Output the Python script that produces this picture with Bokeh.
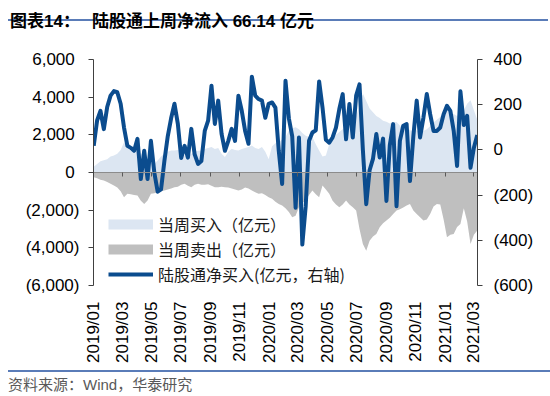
import math
import datetime as dt
from bokeh.plotting import figure
from bokeh.models import (ColumnDataSource, Range1d, LinearAxis, FixedTicker,
                          CustomJSTickFormatter, Legend, LegendItem, Div)
from bokeh.layouts import column
from bokeh.embed import file_html
from bokeh.resources import INLINE

# ---------------- data ----------------
first_week = dt.datetime(2019, 1, 4)
n_weeks = 115
dates = [first_week + dt.timedelta(days=7 * i) for i in range(n_weeks)]

# 当周买入 (亿元, left axis)
buy = [300, 450, 600, 650, 700, 850, 900, 1000, 1200, 1600,
       1300, 1150, 1200, 1150, 1000, 850, 700, 550, 460, 640,
       850, 1000, 1100, 1170, 1170, 1200, 1150, 900, 850, 1000,
       1100, 1150, 1170, 1250, 1300, 1350, 1250, 1300, 1000, 820,
       1100, 1260, 1200, 1170, 1250, 1300, 1350, 1430, 1300, 1250,
       1350, 1100, 700, 1400, 1550, 1610, 1750, 1880, 2230, 2350,
       2400, 2300, 2100, 1950, 1880, 1880, 1500, 1170, 850, 900,
       1500, 1700, 2000, 2150, 2300, 2410, 2500, 2700, 3000, 3500,
       4190, 3800, 3400, 3200, 3000, 2900, 2750, 2700, 2600, 2650,
       2680, 2500, 2300, 2400, 2250, 2200, 2250, 2100, 2200, 2300,
       2450, 2650, 2800, 2950, 3200, 3450, 3150, 3100, 3000, 3200,
       3300, 3650, 3830, 3300, 2800]

# 当周卖出 (亿元, left axis)
sell = [-250, -300, -380, -430, -500, -600, -690, -800, -1000, -1310,
        -1130, -1150, -1200, -1220, -1500, -1670, -1490, -1130, -1100, -1050,
        -1000, -960, -900, -850, -780, -750, -650, -600, -700, -780,
        -650, -600, -650, -650, -620, -700, -780, -780, -750, -780,
        -800, -850, -900, -960, -900, -800, -850, -950, -1050, -1130,
        -1100, -1200, -1310, -1400, -1550, -1670, -1750, -1900, -2100, -2380,
        -2300, -1840, -1600, -1490, -1200, -960, -1150, -1310, -690, -900,
        -1130, -1500, -1700, -1840, -1700, -1490, -1700, -1850, -2020, -3000,
        -3790, -4150, -3620, -3400, -3260, -2910, -2700, -2550, -2400, -2200,
        -2020, -1950, -1860, -1750, -1670, -2020, -2200, -2380, -2550, -2500,
        -2200, -1800, -1670, -1700, -2500, -3440, -3300, -3260, -2900, -2730,
        -1900, -2600, -3790, -3300, -3080]

# 陆股通净买入 (亿元, right axis)
net = [18, 130, 173, 92, 190, 240, 260, 255, 204, 99,
       18, 9, -4, 49, -129, -4, -129, 40, -100, -185,
       -175, -49, 60, 140, 204, 115, -36, 18, -34, 93,
       -20, -62, -49, 84, 129, 284, 115, 218, 71, -4,
       40, 93, 40, 240, 173, 84, 27, 324, 240, 225,
       218, 142, 204, 210, 187, -4, -151, 306, 140, 60,
       -256, 55, -419, -250, 40, 77, 87, 303, 188, 45,
       32, 55, 99, 181, 247, 47, 203, 55, 240, 290,
       0, -240, -90, -40, 70, -34, 50, -226, 20, 114,
       -249, 40, 107, 114, -138, 60, 218, 55, 143, 247,
       158, 84, 84, 99, 158, 195, 173, 84, -71, 259,
       110, 151, -79, 10, 66.14]

tick_dates = [dt.datetime(2019, 1, 4), dt.datetime(2019, 3, 4), dt.datetime(2019, 5, 4),
              dt.datetime(2019, 7, 4), dt.datetime(2019, 9, 4), dt.datetime(2019, 11, 4),
              dt.datetime(2020, 1, 4), dt.datetime(2020, 3, 4), dt.datetime(2020, 5, 4),
              dt.datetime(2020, 7, 4), dt.datetime(2020, 9, 4), dt.datetime(2020, 11, 4),
              dt.datetime(2021, 1, 4), dt.datetime(2021, 3, 4)]
tick_labels = ["2019/01", "2019/03", "2019/05", "2019/07", "2019/09", "2019/11",
               "2020/01", "2020/03", "2020/05", "2020/07", "2020/09", "2020/11",
               "2021/01", "2021/03"]
left_ticks = [-6000, -4000, -2000, 0, 2000, 4000, 6000]
right_ticks = [-600, -400, -200, 0, 200, 400]

series_names = ["当周买入（亿元）", "当周卖出（亿元）", "陆股通净买入(亿元，右轴)"]
title_label = "图表14："
title_main = "陆股通上周净流入 66.14 亿元"
source_note = "资料来源：Wind，华泰研究"

# ---------------- helpers ----------------
EPOCH = dt.datetime(1970, 1, 1)


def ms(d):
    return (d - EPOCH).total_seconds() * 1000.0


x_ms = [ms(d) for d in dates]
tick_ms = [ms(d) for d in tick_dates]
src = ColumnDataSource(dict(x=x_ms, buy=buy, sell=sell, net=net))

LINE_BLUE = "#0B4C8E"
LIGHT_BLUE = "#DCE6F2"
GRAY = "#BFBFBF"
AXIS = "#404040"
RULE = "#5A7CB8"
TICK_FONT = "Liberation Sans"

half_day = 12 * 3600 * 1000.0
p = figure(width=550, height=334,
           x_range=Range1d(x_ms[0] - half_day, x_ms[-1] + half_day),
           y_range=Range1d(-6000, 6000),
           x_axis_location=None, y_axis_location=None,
           output_backend="svg", toolbar_location=None,
           min_border_left=93, min_border_right=73,
           min_border_top=24, min_border_bottom=84)
p.margin = 0
p.outline_line_color = None
p.xgrid.visible = False
p.ygrid.visible = False
p.background_fill_color = "white"
p.border_fill_color = "white"
p.extra_y_ranges = {"right": Range1d(-600, 400)}

p.varea(x="x", y1=0, y2="buy", source=src, fill_color=LIGHT_BLUE)
p.varea(x="x", y1=0, y2="sell", source=src, fill_color=GRAY)
p.line(x="x", y="net", source=src, y_range_name="right",
       line_color=LINE_BLUE, line_width=4, line_join="round")

# legend swatches: renderers with a single undefined (NaN) value, so they draw
# nothing in the plot and only provide the legend symbols
key_src = ColumnDataSource(dict(x=[x_ms[0]], y=[float("nan")]))
k_buy = p.line(x="x", y="y", source=key_src, line_color=LIGHT_BLUE, line_width=10, line_cap="butt")
k_sell = p.line(x="x", y="y", source=key_src, line_color=GRAY, line_width=10, line_cap="butt")
k_net = p.line(x="x", y="y", source=key_src, line_color=LINE_BLUE, line_width=4, line_cap="butt")

paren_code = """
const a = Math.abs(tick).toLocaleString('en-US');
return tick < 0 ? '(' + a + ')' : a + pad;
"""

la = LinearAxis(ticker=FixedTicker(ticks=left_ticks),
                formatter=CustomJSTickFormatter(args=dict(pad="\u00a0"), code=paren_code))
ra = LinearAxis(y_range_name="right", ticker=FixedTicker(ticks=right_ticks),
                formatter=CustomJSTickFormatter(args=dict(pad=""), code=paren_code))
for ax in (la, ra):
    ax.axis_line_color = AXIS
    ax.axis_line_width = 1
    ax.major_tick_line_color = AXIS
    ax.major_tick_out = 5
    ax.major_tick_in = 0
    ax.minor_tick_line_color = None
    ax.major_label_text_font = TICK_FONT
    ax.major_label_text_font_size = "17px"
    ax.major_label_text_color = "#000000"
la.major_label_standoff = 9
ra.major_label_standoff = 11
p.add_layout(la, "left")
p.add_layout(ra, "right")

# date labels under the plot
label_fmt = CustomJSTickFormatter(args=dict(tvals=tick_ms, labs=tick_labels), code="""
let best = 0;
for (let i = 0; i < tvals.length; i++) {
  if (Math.abs(tvals[i] - tick) < Math.abs(tvals[best] - tick)) best = i;
}
return labs[best];
""")
xa = LinearAxis(ticker=FixedTicker(ticks=tick_ms), formatter=label_fmt)
xa.axis_line_color = None
xa.major_tick_line_color = None
xa.minor_tick_line_color = None
xa.major_label_orientation = math.pi / 2
xa.major_label_standoff = 10
xa.major_label_text_font = TICK_FONT
xa.major_label_text_font_size = "17px"
xa.major_label_text_color = "#000000"
p.add_layout(xa, "below")

# zero line with tick marks
za = LinearAxis(fixed_location=0, ticker=FixedTicker(ticks=tick_ms),
                formatter=CustomJSTickFormatter(code="return '';"))
za.axis_line_color = "#8C8C8C"
za.major_tick_line_color = "#595959"
za.major_tick_out = 4
za.major_tick_in = 0
za.minor_tick_line_color = None
za.major_label_text_font_size = "1px"
p.add_layout(za, "below")

legend = Legend(items=[LegendItem(label=series_names[0], renderers=[k_buy]),
                       LegendItem(label=series_names[1], renderers=[k_sell]),
                       LegendItem(label=series_names[2], renderers=[k_net])],
                location=(15, -1))
legend.border_line_color = None
legend.background_fill_alpha = 0
legend.padding = 0
legend.margin = 0
legend.spacing = 1
legend.glyph_width = 45
legend.glyph_height = 24
legend.label_height = 24
legend.label_standoff = 5
legend.label_text_font = "Noto Sans CJK SC"
legend.label_text_font_size = "16px"
legend.label_text_color = "#1A1A1A"
p.add_layout(legend)

title_div = Div(width=550, height=35, margin=0, text=(
    f'<div style="margin-left:8px;width:540px;height:21px;padding:12px 0 0 2px;'
    f'border-bottom:2px solid {RULE};'
    "font-family:'Liberation Sans','Noto Sans CJK SC';font-weight:bold;font-size:17px;"
    'line-height:20px;color:#000;white-space:nowrap;">'
    f'<span>{title_label}</span><span style="margin-left:12px">{title_main}</span></div>'))

foot_div = Div(width=550, height=25, margin=0, text=(
    f'<div style="margin:1px 0 0 8px;width:542px;border-top:2px solid {RULE};padding-top:6px;'
    "font-family:'Liberation Sans','Noto Sans CJK SC';font-size:15px;line-height:14px;"
    f'color:#595959;white-space:nowrap;">{source_note}</div>'))

layout = column(title_div, p, foot_div, spacing=0)
open("out.html", "w").write(file_html(layout, INLINE))
